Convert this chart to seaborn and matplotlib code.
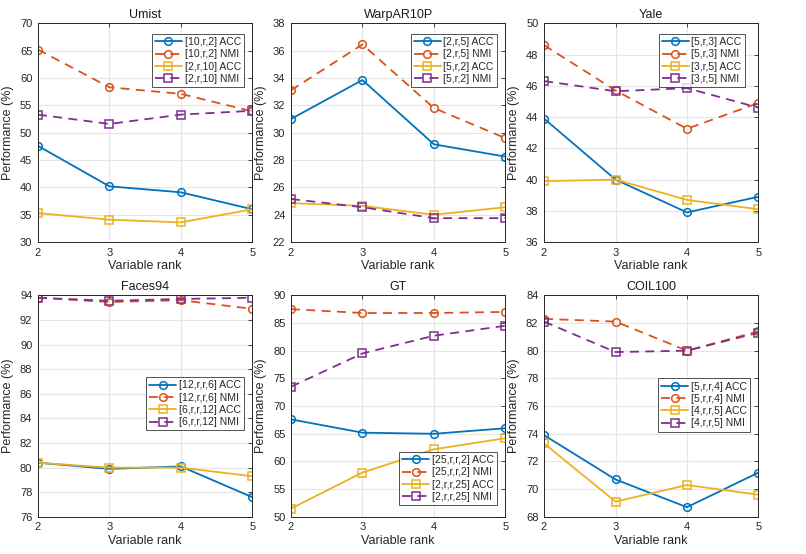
import numpy as np
import pandas as pd
import matplotlib
matplotlib.use('Agg')
import matplotlib.pyplot as plt
import seaborn as sns

## ============================

ranks = [2, 3, 4, 5]

titles = ['Umist', 'WarpAR10P', 'Yale', 'Faces94', 'GT', 'COIL100']

labels = [
	['[10,r,2] ACC', '[10,r,2] NMI', '[2,r,10] ACC', '[2,r,10] NMI'],
	['[2,r,5] ACC', '[2,r,5] NMI', '[5,r,2] ACC', '[5,r,2] NMI'],
	['[5,r,3] ACC', '[5,r,3] NMI', '[3,r,5] ACC', '[3,r,5] NMI'],
	['[12,r,r,6] ACC', '[12,r,r,6] NMI', '[6,r,r,12] ACC', '[6,r,r,12] NMI'],
	['[25,r,r,2] ACC', '[25,r,r,2] NMI', '[2,r,r,25] ACC', '[2,r,r,25] NMI'],
	['[5,r,r,4] ACC', '[5,r,r,4] NMI', '[4,r,r,5] ACC', '[4,r,r,5] NMI'],
]

umist_acc1 = [47.6, 40.2, 39.1, 36.0]
umist_nmi1 = [65.2, 58.3, 57.1, 53.9]
umist_acc2 = [35.3, 34.1, 33.6, 36.0]
umist_nmi2 = [53.3, 51.6, 53.3, 54.0]

warp_acc1 = [31.0, 33.85, 29.15, 28.25]
warp_nmi1 = [33.1, 36.45, 31.8, 29.6]
warp_acc2 = [24.85, 24.65, 24.0, 24.55]
warp_nmi2 = [25.15, 24.55, 23.75, 23.75]

yale_acc1 = [43.9, 40.0, 37.9, 38.9]
yale_nmi1 = [48.6, 45.7, 43.25, 44.9]
yale_acc2 = [39.9, 40.0, 38.7, 38.1]
yale_nmi2 = [46.3, 45.65, 45.85, 44.6]

faces_acc1 = [80.4, 79.9, 80.1, 77.6]
faces_nmi1 = [93.8, 93.45, 93.6, 92.9]
faces_acc2 = [80.4, 80.0, 80.0, 79.3]
faces_nmi2 = [93.8, 93.55, 93.7, 93.8]

gt_acc1 = [67.6, 65.2, 65.0, 66.0]
gt_nmi1 = [87.5, 86.8, 86.8, 87.0]
gt_acc2 = [51.5, 58.0, 62.2, 64.2]
gt_nmi2 = [73.5, 79.5, 82.7, 84.5]

coil_acc1 = [73.9, 70.7, 68.7, 71.2]
coil_nmi1 = [82.3, 82.1, 80.0, 81.4]
coil_acc2 = [73.3, 69.1, 70.3, 69.6]
coil_nmi2 = [82.1, 79.9, 80.0, 81.3]

values = [
	[umist_acc1, umist_nmi1, umist_acc2, umist_nmi2],
	[warp_acc1, warp_nmi1, warp_acc2, warp_nmi2],
	[yale_acc1, yale_nmi1, yale_acc2, yale_nmi2],
	[faces_acc1, faces_nmi1, faces_acc2, faces_nmi2],
	[gt_acc1, gt_nmi1, gt_acc2, gt_nmi2],
	[coil_acc1, coil_nmi1, coil_acc2, coil_nmi2],
]

ylims = [(30, 70, 5), (22, 38, 2), (36, 50, 2), (76, 94, 2), (50, 90, 5), (68, 84, 2)]
legend_locs = ['upper right', 'upper right', 'upper right', 'center right', 'lower right', 'center right']
legend_anchor = [(0.99, 0.98), (0.99, 0.98), (0.965, 0.98), (0.99, 0.51), (0.99, 0.025), (0.99, 0.505)]

## ============================

colors = ['#0072BD', '#D95319', '#EDB120', '#7E2F8E']
markers = ['o', 'o', 's', 's']
lstyles = ['-', (0, (5, 3.5)), '-', (0, (5, 3.5))]

sns.set_style('white')
plt.rcParams['font.family'] = ['Liberation Sans', 'DejaVu Sans']
plt.rcParams['font.size'] = 8

fig = plt.figure(figsize=(8.06, 5.54), dpi=100)
lefts = [0.047, 0.361, 0.675]
rows = [(0.563, 0.395), (0.067, 0.400)]

for k in range(6):
	r, c = divmod(k, 3)
	ax = fig.add_axes([lefts[c], rows[r][0], 0.266, rows[r][1]])
	for j in range(4):
		df = pd.DataFrame({'rank': ranks, 'perf': values[k][j]})
		sns.lineplot(ax=ax, data=df, x='rank', y='perf', color=colors[j], marker=markers[j],
				linestyle=lstyles[j], markerfacecolor='none', markeredgecolor=colors[j],
				markeredgewidth=1.1, markersize=5.5, linewidth=1.3, label=labels[k][j])
	y0, y1, st = ylims[k]
	ax.set_ylim(y0, y1)
	ax.set_yticks(np.arange(y0, y1 + 0.01, st))
	ax.set_xlim(2, 5)
	ax.set_xticks(ranks)
	ax.grid(True, color='#e6e6e6', linewidth=0.8)
	ax.set_axisbelow(True)
	for s in ax.spines.values():
		s.set_color('#262626')
		s.set_linewidth(0.7)
	ax.tick_params(direction='in', top=True, right=True, length=3, width=0.6,
				colors='#262626', labelsize=8, pad=4)
	ax.set_title(titles[k], fontsize=9, pad=4, color='#1a1a1a')
	ax.set_xlabel('Variable rank', fontsize=9, color='#262626', labelpad=2)
	ax.set_ylabel('Performance (%)', fontsize=9, color='#262626', labelpad=4)
	leg = ax.legend(loc=legend_locs[k], bbox_to_anchor=legend_anchor[k], fontsize=7.5,
				frameon=True, fancybox=False, handlelength=2.6, handletextpad=0.25,
				borderpad=0.3, labelspacing=0.22, borderaxespad=0.6)
	leg.get_frame().set_edgecolor('#262626')
	leg.get_frame().set_linewidth(0.7)

fig.savefig('out.png', dpi=100)
